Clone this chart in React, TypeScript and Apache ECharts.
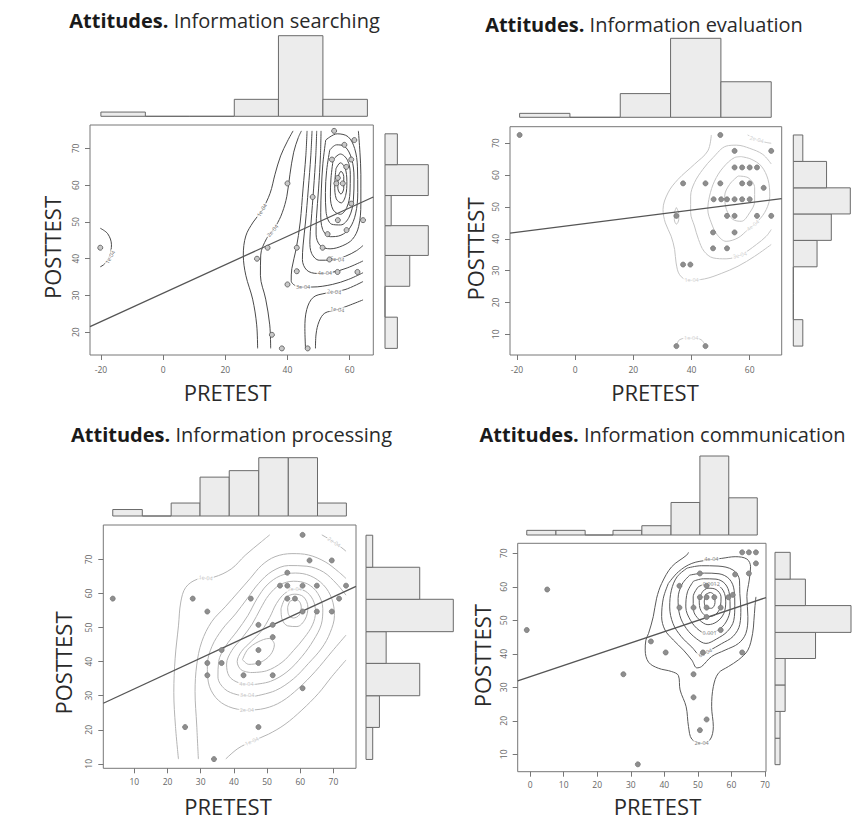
import React, { useEffect, useRef } from "react";
import * as echarts from "echarts";

// ================= DATA =================
// ---- Panel 1: Information searching ----
const p1Title = "Information searching";
const p1Points = [
  [-20.2, 43], [30.2, 40], [33.6, 43], [40, 60.5], [43, 43], [43, 36.6], [40, 33], [35, 19.3],
  [38.2, 15.6], [46.5, 15.6], [48.1, 56.8], [52.9, 46.7], [51.3, 43], [53.5, 39.8], [56.1, 36.4],
  [62.5, 36.4], [55, 74.8], [58.3, 71], [61.5, 72.3], [56.2, 62], [55.7, 60.5], [57.8, 60.5],
  [58.9, 65], [60.5, 67], [54.3, 67], [60.5, 55], [64.3, 50.5], [56.2, 50.5], [59, 47.8],
];
const p1Regression = [[-23.5, 21.5], [67.6, 56.8]];
const p1XTicks = [-20, 0, 20, 40, 60];
const p1YTicks = [20, 30, 40, 50, 60, 70];
const p1TopEdges = [-20, -5.7, 8.6, 22.9, 37.1, 51.4, 65.7];
const p1TopCounts = [1, 0, 0, 4, 19, 4];
const p1RightEdges = [15.6, 24.1, 32.5, 40.9, 49.0, 57.2, 65.6, 74.0];
const p1RightCounts = [2, 0, 4, 7, 1, 7, 2];
const p1Contours = [
  [[30.4, 15.6], [30.1, 22], [28.8, 29], [26.6, 35.5], [25.8, 41], [26.6, 46.2], [29, 50], [31.8, 53.2], [34.4, 57.8], [36, 63], [37.8, 68], [40, 72], [41.8, 74.8]],
  [[49, 15.6], [49.2, 19.5], [50.2, 23], [52, 25.2], [55.5, 26], [59.5, 27.2], [64.3, 28.8]],
  [[34.6, 15.6], [34.3, 22], [33, 29], [31.3, 35.5], [31.4, 41], [33.3, 45.5], [36.3, 49], [38.3, 52.5], [39.8, 57], [40.8, 63], [42, 69], [43.5, 73], [44.5, 74.8]],
  [[45.8, 15.6], [45.6, 21], [46.2, 26.2], [48.3, 29.5], [52.2, 30.6], [58.5, 31.6], [64.3, 33.8]],
  [[46.3, 74.8], [45.9, 68], [45, 59], [44.1, 50], [42.8, 42.7], [41.4, 37.3], [41.2, 34], [43.2, 32.5], [47.9, 32.3], [54.4, 33], [59.7, 34.4], [64.3, 36.2]],
  [[47.9, 74.8], [47.5, 68], [46.7, 59], [45.8, 50], [45, 43.5], [44.8, 39.8], [46.2, 36.9], [49.5, 36], [54.3, 36.3], [59.2, 37.5], [64.3, 39.4]],
  [[49.4, 74.8], [49.1, 68], [48.4, 59], [47.6, 50], [47.2, 44.8], [47.8, 41.4], [50.2, 39.6], [54.3, 39.6], [58.7, 40.7], [62.2, 42.2], [64.3, 43.6]],
  [[50.8, 74.8], [50.6, 68], [50, 59], [49.3, 51], [49.2, 46.7], [50.5, 43.6], [53.7, 42.7], [57.6, 43.5], [60.9, 45.3], [62.9, 48.8], [63.6, 55], [63.6, 63], [63.3, 69], [62.8, 74.8]],
  [[52.3, 72.3], [51.4, 66], [50.9, 59], [50.7, 52.5], [51.3, 48], [53.8, 46], [57.2, 46.4], [60, 48.3], [61.9, 52.2], [62.6, 58], [62.5, 65], [61.6, 70], [59.5, 73.2], [56, 74], [52.3, 72.3]],
  [[53.6, 69.6], [52.6, 64], [52.2, 58], [52.4, 52.8], [54.2, 49.4], [57.1, 49.2], [59.8, 51.3], [61.2, 56], [61.4, 62], [60.6, 67.3], [58.5, 70.5], [55.8, 71], [53.6, 69.6]],
  [[54.7, 67], [54, 62], [53.8, 57], [54.7, 53.3], [57, 52.1], [59.1, 54], [60.1, 58], [60.2, 63], [59.3, 66.8], [57, 68.5], [54.7, 67]],
  [[55.6, 64.5], [55.2, 60], [55.7, 56.3], [57.3, 55.2], [58.7, 57.2], [59.1, 61], [58.5, 64.8], [57, 66.1], [55.6, 64.5]],
  [[56.3, 62.4], [56.2, 59.2], [57.2, 57.6], [58.1, 59.2], [58.1, 62.4], [57.2, 63.8], [56.3, 62.4]],
  [[-20.2, 48.3], [-17.8, 46.8], [-16.6, 43.8], [-17.2, 40.8], [-18.8, 38.6], [-20.2, 37.8]],
];
const p1ContourLabels = [
  [31.8, 53.2, "1e-04", 58], [35.2, 47.6, "2e-04", 50], [45, 32.4, "3e-04", 0], [52, 36.1, "4e-04", 0],
  [56, 39.9, "5e-04", -6], [55, 31, "2e-04", -5], [56, 26.2, "1e-04", -8], [-17, 40.4, "1e-04", 60],
];

// ---- Panel 2: Information evaluation ----
const p2Title = "Information evaluation";
const p2Points = [
  [-19.1, 72.6], [49.9, 72.6], [54.8, 67.6], [67.4, 67.6],
  [54.8, 62.4], [57.4, 62.4], [60, 62.4], [62.5, 62.4],
  [37.1, 57.4], [44.8, 57.4], [49.9, 57.4], [57.4, 57.4], [60, 57.4], [64.8, 56],
  [47.6, 52.4], [50.2, 52.4], [52.2, 52.4], [54.8, 52.4], [57.4, 52.4], [60, 52.4],
  [34.8, 47.2], [52.2, 47.2], [54.8, 47.2], [62.5, 47.2], [67.4, 47.2],
  [47.4, 42], [54.8, 42], [47.4, 37], [52.2, 37], [37.1, 31.9], [39.6, 31.9],
  [34.8, 6.3], [44.8, 6.3],
];
const p2Regression = [[-22.4, 41.8], [71.0, 52.6]];
const p2XTicks = [-20, 0, 20, 40, 60];
const p2YTicks = [10, 20, 30, 40, 50, 60, 70];
const p2TopEdges = [-19.1, -1.8, 15.5, 32.8, 50.1, 67.4];
const p2TopCounts = [1, 0, 6, 20, 9];
const p2RightEdges = [6.3, 14.6, 22.9, 31.2, 39.5, 47.8, 56.0, 64.3, 72.6];
const p2RightCounts = [2, 0, 0, 5, 8, 12, 7, 2];
const p2Contours = [
  [[46.8, 72.6], [45.6, 67.6], [41, 63.4], [35.3, 58.6], [31.9, 54.4], [30.2, 49.2], [31, 45], [33, 40.8], [34.2, 36.6], [34.7, 32.4], [35.9, 28.7], [38.8, 27], [44.5, 27.4], [50.2, 29.1], [56, 31.4], [61.7, 34.5], [67.4, 38.2]],
  [[59.3, 72.6], [62, 71.4], [65, 70.4], [67.4, 70]],
  [[67.4, 63.5], [64.5, 66.5], [60, 68.4], [55.5, 69.4], [51.9, 69.1], [47.4, 65.5], [43.9, 61.8], [41, 57.6], [39.7, 53.4], [39.7, 48.2], [41, 44], [42.4, 39.8], [44.3, 36.1], [47.4, 34], [51.9, 33.7], [57.1, 35], [62.3, 38.2], [65.7, 40.8], [67.4, 42.9]],
  [[57.1, 65.8], [54.8, 65.5], [50.8, 62.3], [47.9, 58.1], [46.2, 53.4], [45.6, 49.2], [46.8, 45], [48.8, 41.3], [51.9, 39.2], [56, 40.3], [59.4, 42.9], [62.8, 45.5], [65.7, 49.2], [66.9, 53.4], [66.3, 58.6], [64, 62.8], [60.5, 65], [57.1, 65.8]],
  [[56, 59.7], [53.1, 57.1], [51.4, 53.4], [52, 49.2], [54.2, 46.1], [57.1, 45.5], [60, 48.2], [61.7, 51.8], [61.7, 56], [59.4, 59.2], [56, 59.7]],
  [[34.8, 49.8], [35.6, 48], [35.6, 46], [34.8, 44.6], [34.1, 46], [34.1, 48], [34.8, 49.8]],
  [[34.8, 6.3], [35.9, 8.3], [39.9, 8.9], [43.3, 8.3], [44.8, 6.3]],
];
const p2ContourLabels = [
  [40, 27.1, "1e-04", 0], [62.4, 71.2, "2e-04", -15], [56.6, 34.9, "3e-04", 14], [61.1, 44.2, "4e-04", 38], [39.9, 8.9, "1e-04", 0],
];

// ---- Panel 3: Information processing ----
const p3Title = "Information processing";
const p3Points = [
  [3.5, 58.5], [27.6, 58.5], [32, 54.7], [45.1, 58.5], [47.4, 50.8], [51.7, 50.8], [51.7, 47.2],
  [47.4, 43.4], [36.3, 43.4], [32, 39.6], [36.3, 39.6], [47.4, 39.6], [32, 36], [42.9, 36], [51.7, 36],
  [60.7, 32.2], [25.3, 20.8], [47.4, 20.8], [34, 11.4], [60.7, 77.2], [62.8, 69.7], [69.5, 69.7],
  [56.1, 66.1], [53.9, 62.3], [56.1, 62.3], [60.7, 62.3], [65, 62.3], [73.8, 62.3], [56.1, 58.5],
  [58.4, 58.5], [60.7, 54.7], [65, 54.7], [69.5, 54.7], [71.7, 58.5],
];
const p3Regression = [[0.65, 27.8], [76.8, 62.1]];
const p3XTicks = [10, 20, 30, 40, 50, 60, 70];
const p3YTicks = [10, 20, 30, 40, 50, 60, 70];
const p3TopEdges = [3.5, 12.4, 21.1, 29.8, 38.6, 47.5, 56.4, 65.2, 73.9];
const p3TopCounts = [1, 0, 2, 6, 7, 9, 9, 2];
const p3RightEdges = [11.3, 20.7, 30.0, 39.5, 48.8, 58.3, 67.7, 77.1];
const p3RightCounts = [1, 2, 8, 3, 13, 8, 1];
const p3Contours = [
  [[23.3, 11.4], [22.4, 21], [21.9, 31], [22.3, 41], [23.3, 50.5], [24, 57.5], [25.5, 61.8], [29, 64.2], [34, 64.8], [39.2, 67.2], [43.4, 71.2], [48.3, 75.2], [50.8, 77.2]],
  [[37.5, 11.4], [41.2, 14.5], [45.4, 16.6], [50.4, 18.7], [55.4, 21.6], [60.5, 25.8], [65.5, 30.7], [69.5, 35.6], [73.8, 40.5]],
  [[66.5, 77.2], [69.5, 75.5], [72, 73.8], [73.8, 72.4]],
  [[29.3, 11.4], [28.8, 21.4], [28.3, 31.2], [28.8, 39], [30.3, 45.8], [33.3, 51.7], [37.4, 56.1], [41.4, 60.5], [44.9, 64.4], [48.4, 68.3], [52.4, 70.8], [57.5, 71.7], [62.5, 71.3], [67.5, 69.3], [71.5, 66.4], [73.8, 64.4]],
  [[73.8, 47.8], [69.5, 42.9], [64.5, 37.1], [59.5, 32.2], [54.4, 28.3], [49.4, 26.3], [43.9, 25.8], [38.4, 26.8], [34.5, 29.5], [32.3, 34], [32, 39], [33.4, 44.5], [36.5, 49.5], [40.5, 54], [44, 58.5], [47.5, 63], [51.5, 66.5], [56.5, 68.2], [62, 68], [67, 66.3], [71, 62.8], [73.8, 59.5]],
  [[46, 29.8], [41, 30.3], [37.2, 32], [35.2, 35.5], [35.4, 40], [37.5, 44.5], [41, 49], [44.2, 53.5], [47, 58.5], [50, 62.5], [54, 65.2], [58.5, 66], [63, 65.2], [67, 62.5], [69.5, 58.5], [70.3, 53.5], [69, 48.5], [66.5, 44], [62.5, 39.5], [58, 35], [52.5, 31.5], [46, 29.8]],
  [[46, 33.3], [41.5, 33.8], [38.6, 35.7], [37.8, 39.3], [39.4, 43.3], [42.5, 47], [45.5, 51], [48, 55.5], [50.5, 59.5], [53.8, 62.5], [58, 63.6], [62.2, 62.8], [65.3, 60], [66.8, 55.5], [66.3, 50.8], [64, 46.3], [60.5, 41.5], [56, 37], [51, 34.2], [46, 33.3]],
  [[45, 36.8], [42.2, 37.6], [41, 40], [42.3, 43], [45.3, 46], [48.3, 49], [50.8, 53], [52.8, 57], [55.3, 60], [58.3, 61.3], [61.5, 60.7], [63.8, 58.2], [64.6, 54.6], [63.7, 50.8], [61.2, 47], [58, 43.3], [54.5, 39.8], [49.8, 37.3], [45, 36.8]],
  [[42.6, 40.6], [44.2, 43.6], [47.3, 45.8], [50.6, 46.8], [52.2, 45], [51, 42], [48, 39.8], [44.5, 39.2], [42.6, 40.6]],
  [[54.2, 55.5], [55.6, 58.7], [58.3, 59.8], [61, 59], [62.3, 56], [61.5, 52.5], [59, 50.3], [56.2, 50.5], [54.5, 52.5], [54.2, 55.5]],
  [[56.2, 56], [57.2, 57.9], [59.2, 58], [60.3, 56], [59.7, 53.7], [57.9, 52.8], [56.5, 53.8], [56.2, 56]],
];
const p3ContourLabels = [
  [31.5, 64.6, "1e-04", -5], [45.4, 16.6, "1e-04", 24], [70.2, 75.1, "2e-04", -34], [43.9, 25.8, "2e-04", 0],
  [44, 30.1, "3e-04", 0], [43.8, 33.5, "4e-04", 0], [58.3, 61.3, "7e-04", 0],
];

// ---- Panel 4: Information communication ----
const p4Title = "Information communication";
const p4Points = [
  [-1, 47.1], [5.1, 59.2], [27.8, 33.9], [32.1, 7], [36, 43.7], [40.4, 40.4], [44.5, 60.3], [51.5, 40.4],
  [48.7, 33.9], [48.7, 27], [52.6, 20.4], [50.6, 17.2], [63.2, 40.4], [50.6, 64], [61.1, 63.7], [65.2, 64],
  [63.2, 70.3], [65.2, 70.3], [67.3, 70.3], [67.3, 67], [50.6, 56.9], [52.6, 56.9], [54.9, 56.9],
  [59.1, 56.9], [60.4, 57.6], [44.5, 53.8], [48.7, 53.8], [52.6, 53.8], [56.8, 53.8], [56.8, 47.1],
  [52.6, 51], [52.6, 60.3],
];
const p4Regression = [[-3.7, 31.9], [70.3, 56.8]];
const p4XTicks = [0, 10, 20, 30, 40, 50, 60, 70];
const p4YTicks = [10, 20, 30, 40, 50, 60, 70];
const p4TopEdges = [-1, 7.7, 16.4, 24.7, 33.3, 42, 50.6, 59.2, 67.7];
const p4TopCounts = [1, 1, 0, 1, 2, 7, 17, 8];
const p4RightEdges = [6.9, 14.8, 22.8, 30.7, 38.6, 46.4, 54.4, 62.3, 70.3];
const p4RightCounts = [1, 1, 2, 2, 8, 15, 6, 3];
const p4Contours = [
  [[47.2, 70.3], [46.7, 69.5], [42.2, 66], [39.2, 61], [37.7, 56.6], [36.7, 51.1], [35.3, 46.1], [34.5, 44.1], [34.3, 41.1], [35.3, 37.5], [38.2, 35.7], [42.2, 34.7], [44.2, 33.5], [44.7, 29.2], [46.5, 24.2], [47.2, 18.3], [48.2, 14.5], [51.1, 13.3], [53.6, 14.3], [54.6, 18.3], [54.1, 24.2], [54.6, 30.2], [56.1, 34.2], [59.1, 36.2], [62.1, 38.2], [64.9, 41.1], [66.3, 46], [66.7, 50], [67, 54], [67.3, 57]],
  [[41.2, 61], [39.7, 56.6], [39.2, 51.1], [40.2, 47.1], [42.7, 44.1], [45.7, 41.1], [48.2, 38.1], [49.7, 35.8], [51.1, 36.2], [54.1, 39.2], [58.1, 41.1], [62.1, 43.1], [64.3, 46.1], [64.9, 51.1], [64.6, 57.1], [65.3, 62], [65.7, 66], [64.6, 68.3], [61.1, 69], [57.1, 68.5], [53.1, 68], [48.2, 67], [44.2, 64.5], [41.2, 61]],
  [[46.8, 65.6], [43.8, 63], [42.1, 59], [41.6, 54], [42.6, 49], [45, 45.2], [48.2, 42], [50.8, 39.6], [53.5, 41], [57, 43], [60.5, 45.2], [62.5, 48.8], [62.8, 53.5], [62.5, 58], [62.4, 62], [60.5, 65], [56, 66.2], [51, 66.3], [46.8, 65.6]],
  [[47.6, 63.5], [45.3, 60.8], [44.1, 56.5], [44.6, 51.5], [46.6, 47.5], [49.6, 44.5], [52.4, 43.1], [55.5, 44.4], [58.8, 46.7], [60.7, 50], [61, 54.5], [60.8, 59], [59.4, 62.3], [56.3, 63.9], [52, 64.1], [47.6, 63.5]],
  [[48.7, 61.7], [46.9, 58.5], [46.4, 54], [47.8, 50], [50.4, 47], [53, 46], [55.9, 47], [58.4, 49.5], [59.6, 53.5], [59.4, 57.8], [58.1, 60.9], [55.4, 62.3], [51.6, 62.4], [48.7, 61.7]],
  [[50.1, 60], [48.6, 57], [48.7, 53], [50.4, 50.2], [53, 48.7], [55.7, 49.6], [57.7, 52], [58.3, 55.5], [57.6, 58.8], [55.4, 60.7], [52.6, 60.9], [50.1, 60]],
  [[51.4, 58.6], [50.4, 56], [50.9, 52.9], [53, 51.1], [55.2, 51.7], [56.7, 54], [56.9, 57], [55.4, 59.2], [53, 59.6], [51.4, 58.6]],
  [[52.3, 57.7], [51.9, 55.5], [52.7, 53.6], [54.1, 53.6], [55.1, 55.3], [54.9, 57.4], [53.7, 58.3], [52.3, 57.7]],
];
const p4ContourLabels = [
  [51.1, 13.3, "2e-04", 0], [54, 68.2, "4e-04", 0], [52.2, 40.3, "6e-04", 25], [53.5, 46.2, "0.001", 0], [54, 60.8, "0.0012", 0],
];

// ================= LAYOUT / STYLE (not data) =================
const FONT = "'Open Sans', 'DejaVu Sans', sans-serif";
const PANELS = [
  {
    title: p1Title, points: p1Points, reg: p1Regression, xTicks: p1XTicks, yTicks: p1YTicks,
    topEdges: p1TopEdges, topCounts: p1TopCounts, rightEdges: p1RightEdges, rightCounts: p1RightCounts,
    contours: p1Contours, labels: p1ContourLabels,
    box: { left: 90, top: 125, width: 283.3, height: 230 }, xr: [-23.5, 67.6], yr: [13.8, 76.4],
    topHist: { top: 35.7, bottom: 116.3 }, rightHist: { left: 385, width: 43.3 },
    lineColor: "#4a4a4a", pt: { size: 5, fill: "#c8c8c8", stroke: "#505050" },
    titlePos: [224.5, 20.7], xNamePos: [227.5, 391.5], yNamePos: [52.2, 247.5], xLabMargin: 10,
  },
  {
    title: p2Title, points: p2Points, reg: p2Regression, xTicks: p2XTicks, yTicks: p2YTicks,
    topEdges: p2TopEdges, topCounts: p2TopCounts, rightEdges: p2RightEdges, rightCounts: p2RightCounts,
    contours: p2Contours, labels: p2ContourLabels,
    box: { left: 510, top: 126.7, width: 271.7, height: 228.3 }, xr: [-22.4, 71.0], yr: [3.5, 75.2],
    topHist: { top: 38.3, bottom: 117.3 }, rightHist: { left: 793.3, width: 57 },
    lineColor: "#c4c4c4", pt: { size: 5, fill: "#8e8e8e", stroke: "#777" },
    titlePos: [644, 24], xNamePos: [655, 391.5], yNamePos: [474.5, 249], xLabMargin: 10,
  },
  {
    title: p3Title, points: p3Points, reg: p3Regression, xTicks: p3XTicks, yTicks: p3YTicks,
    topEdges: p3TopEdges, topCounts: p3TopCounts, rightEdges: p3RightEdges, rightCounts: p3RightCounts,
    contours: p3Contours, labels: p3ContourLabels,
    box: { left: 103.3, top: 525, width: 252.7, height: 243.3 }, xr: [0.65, 76.8], yr: [8.7, 80.1],
    topHist: { top: 457.7, bottom: 516 }, rightHist: { left: 366, width: 87.3 },
    lineColor: "#b4b4b4", pt: { size: 5, fill: "#8e8e8e", stroke: "#777" },
    titlePos: [231.5, 434.4], xNamePos: [228, 805.5], yNamePos: [63, 663], xLabMargin: 9,
  },
  {
    title: p4Title, points: p4Points, reg: p4Regression, xTicks: p4XTicks, yTicks: p4YTicks,
    topEdges: p4TopEdges, topCounts: p4TopCounts, rightEdges: p4RightEdges, rightCounts: p4RightCounts,
    contours: p4Contours, labels: p4ContourLabels,
    box: { left: 517.7, top: 543.3, width: 248.3, height: 228.4 }, xr: [-3.7, 70.3], yr: [4.8, 73.0],
    topHist: { top: 456, bottom: 535 }, rightHist: { left: 775, width: 76 },
    lineColor: "#5a5a5a", pt: { size: 5, fill: "#8e8e8e", stroke: "#777" },
    titlePos: [662.5, 434.4], xNamePos: [657.5, 805.5], yNamePos: [482, 655.7], xLabMargin: 8,
  },
];

const HIST_STYLE = { fill: "#ececec", stroke: "#6a6a6a", lineWidth: 1 };

function buildOption() {
  const grid: any[] = [];
  const xAxis: any[] = [];
  const yAxis: any[] = [];
  const series: any[] = [];
  const graphic: any[] = [];

  PANELS.forEach((p, i) => {
    const g0 = i * 3, g1 = g0 + 1, g2 = g0 + 2;
    const b = p.box;
    grid.push({ left: b.left, top: b.top, width: b.width, height: b.height, show: true, borderColor: "#777", borderWidth: 1, backgroundColor: "transparent" });
    grid.push({ left: b.left, top: p.topHist.top, width: b.width, height: p.topHist.bottom - p.topHist.top, show: false });
    grid.push({ left: p.rightHist.left, top: b.top, width: p.rightHist.width, height: b.height, show: false });

    xAxis.push({
      gridIndex: g0, type: "value", min: p.xr[0], max: p.xr[1], position: "bottom",
      axisLine: { show: false, onZero: false }, splitLine: { show: false },
      axisTick: { show: true, customValues: p.xTicks, length: 5, lineStyle: { color: "#777", width: 1 } },
      axisLabel: { customValues: p.xTicks, fontSize: 8.5, color: "#666", margin: p.xLabMargin, fontFamily: FONT },
    });
    yAxis.push({
      gridIndex: g0, type: "value", min: p.yr[0], max: p.yr[1], position: "left",
      axisLine: { show: false, onZero: false }, splitLine: { show: false },
      axisTick: { show: true, customValues: p.yTicks, length: 5, lineStyle: { color: "#777", width: 1 } },
      axisLabel: { customValues: p.yTicks, fontSize: 8.5, color: "#666", margin: 10, rotate: 90, fontFamily: FONT },
    });
    const topMax = Math.max(...p.topCounts);
    const rightMax = Math.max(...p.rightCounts);
    xAxis.push({ gridIndex: g1, type: "value", min: p.xr[0], max: p.xr[1], show: false, axisLine: { onZero: false } });
    yAxis.push({ gridIndex: g1, type: "value", min: 0, max: topMax, show: false, axisLine: { onZero: false } });
    xAxis.push({ gridIndex: g2, type: "value", min: 0, max: rightMax, show: false, axisLine: { onZero: false } });
    yAxis.push({ gridIndex: g2, type: "value", min: p.yr[0], max: p.yr[1], show: false, axisLine: { onZero: false } });

    p.contours.forEach((c) => {
      series.push({
        type: "line", xAxisIndex: g0, yAxisIndex: g0, data: c, showSymbol: false, symbol: "none",
        smooth: 0.35, silent: true, z: 2, lineStyle: { color: p.lineColor, width: 1 },
      });
    });
    series.push({
      type: "scatter", xAxisIndex: g0, yAxisIndex: g0, silent: true, z: 3, symbolSize: 1,
      itemStyle: { color: "rgba(0,0,0,0)" },
      data: p.labels.map((l) => ({
        value: [l[0], l[1]],
        label: { show: true, formatter: String(l[2]), rotate: l[3] as number },
      })),
      label: {
        show: true, position: "inside", fontSize: 5.5, color: p.lineColor, fontFamily: FONT,
        backgroundColor: "#ffffff", padding: [0, 1],
      },
    });
    series.push({
      type: "line", xAxisIndex: g0, yAxisIndex: g0, data: p.reg, showSymbol: false, symbol: "none",
      silent: true, z: 4, lineStyle: { color: "#555", width: 1.3 },
    });
    series.push({
      type: "scatter", xAxisIndex: g0, yAxisIndex: g0, data: p.points, symbol: "circle", symbolSize: p.pt.size,
      silent: true, z: 5, itemStyle: { color: p.pt.fill, borderColor: p.pt.stroke, borderWidth: 0.8, opacity: 1 },
    });
    const topData = p.topCounts.map((c, k) => [p.topEdges[k], p.topEdges[k + 1], c]);
    series.push({
      type: "custom", xAxisIndex: g1, yAxisIndex: g1, data: topData, silent: true, clip: false,
      encode: { x: [0, 1], y: 2 },
      renderItem: (params: any, api: any) => {
        const a = api.coord([api.value(0), 0]);
        const c = api.coord([api.value(1), api.value(2)]);
        return { type: "rect", shape: { x: a[0], y: c[1], width: c[0] - a[0], height: a[1] - c[1] }, style: HIST_STYLE };
      },
    });
    const rightData = p.rightCounts.map((c, k) => [p.rightEdges[k], p.rightEdges[k + 1], c]);
    series.push({
      type: "custom", xAxisIndex: g2, yAxisIndex: g2, data: rightData, silent: true, clip: false,
      encode: { x: 2, y: [0, 1] },
      renderItem: (params: any, api: any) => {
        const a = api.coord([0, api.value(0)]);
        const c = api.coord([api.value(2), api.value(1)]);
        return { type: "rect", shape: { x: a[0], y: c[1], width: c[0] - a[0], height: a[1] - c[1] }, style: HIST_STYLE };
      },
    });

    graphic.push({
      type: "text", x: p.titlePos[0], y: p.titlePos[1], silent: true,
      style: {
        text: "{b|Attitudes.} " + p.title, fontFamily: FONT, fontSize: 20, fill: "#2a2a2a",
        align: "center", verticalAlign: "middle",
        rich: { b: { fontFamily: FONT, fontSize: 20, fontWeight: "bold", fill: "#1a1a1a" } },
      },
    });
    graphic.push({
      type: "text", x: p.xNamePos[0], y: p.xNamePos[1], silent: true,
      style: { text: "PRETEST", fontFamily: FONT, fontSize: 22, fill: "#2a2a2a", align: "center", verticalAlign: "middle" },
    });
    graphic.push({
      type: "text", x: p.yNamePos[0], y: p.yNamePos[1], rotation: Math.PI / 2, silent: true,
      style: { text: "POSTTEST", fontFamily: FONT, fontSize: 22, fill: "#2a2a2a", align: "center", verticalAlign: "middle" },
    });
  });

  return { animation: false, backgroundColor: "#ffffff", grid, xAxis, yAxis, series, graphic };
}

export default function App() {
  const ref = useRef<HTMLDivElement>(null);
  useEffect(() => {
    if (!ref.current) return;
    const chart = echarts.init(ref.current, undefined, { renderer: "svg" });
    chart.setOption(buildOption() as any);
    return () => chart.dispose();
  }, []);
  return (
    <div
      ref={ref}
      style={{ position: "absolute", left: 0, top: 0, width: 866, height: 820, background: "#fff" }}
    />
  );
}
